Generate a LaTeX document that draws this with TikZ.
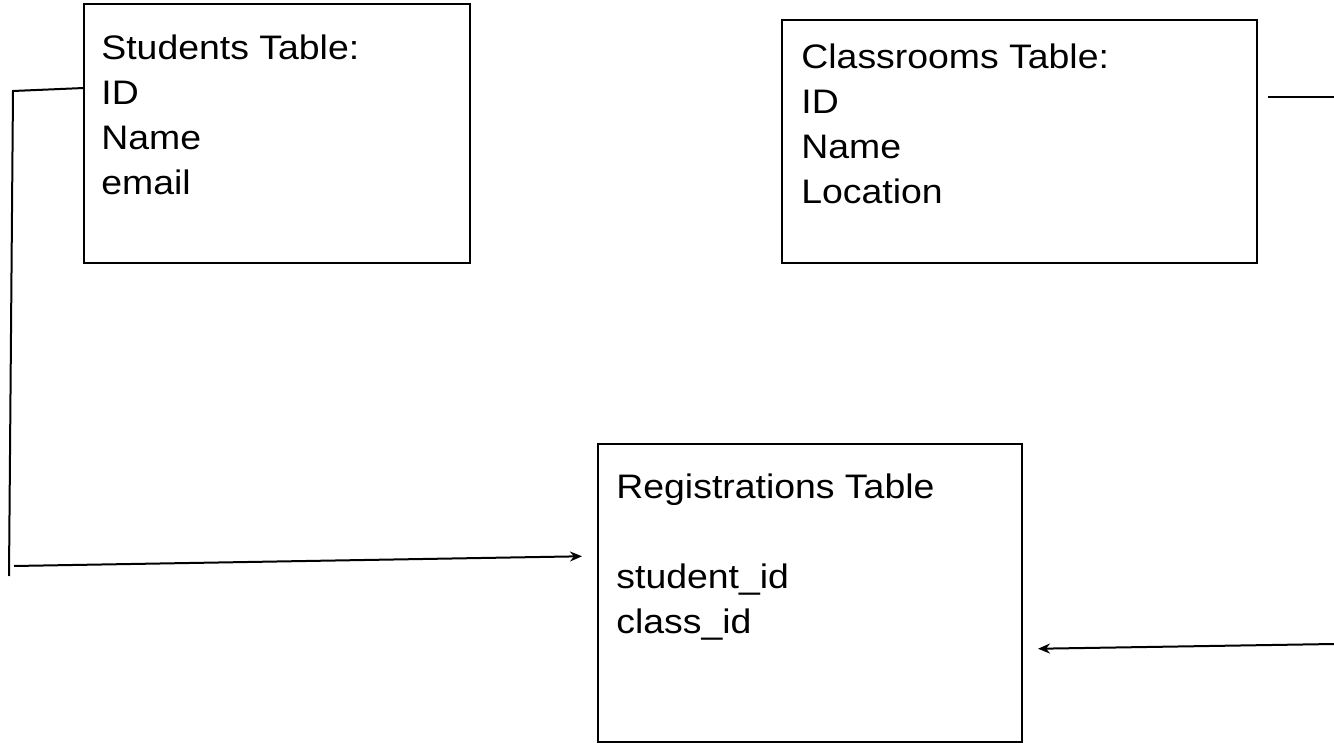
\documentclass[tikz,border=0pt]{standalone}
\usepackage{fontspec}
\usepackage{graphicx}
\setmainfont{Liberation Sans}
\usetikzlibrary{arrows.meta}
\newcommand\widetext[1]{\scalebox{1.1}[1]{#1}}
\tikzset{
  tblbox/.style={draw, line width=1pt, inner sep=0pt, outer sep=0pt},
  tbltext/.style={anchor=base west, inner sep=0pt, font=\fontsize{17}{22.5}\selectfont},
  link/.style={line width=1pt},
  flow/.style={line width=1pt, -{Stealth[length=6pt,width=5pt]}, shorten >=8pt}
}
\begin{document}
\begin{tikzpicture}[x=0.5pt, y=-0.5pt]
      \useasboundingbox (0,0) rectangle (1334,743);
      \node[tblbox, minimum width=193pt, minimum height=129.5pt] (students) at (277,133.5) {};
      \node[tblbox, minimum width=237.5pt, minimum height=121.5pt] (classrooms) at (1019.5,141.5) {};
      \node[tblbox, minimum width=212pt, minimum height=149pt] (registrations) at (810,593) {};
      \node[tbltext] (studentsText) at (101,60)
        {\widetext{\begin{tabular}[t]{@{}l@{}}Students Table:\\ID\\Name\\email\end{tabular}}};
      \node[tbltext] (classroomsText) at (801,69)
        {\widetext{\begin{tabular}[t]{@{}l@{}}Classrooms Table:\\ID\\Name\\Location\end{tabular}}};
      \node[tbltext] (registrationsText) at (616,498)
        {\widetext{\begin{tabular}[t]{@{}l@{}}Registrations Table\\ \\student\_id\\class\_id\end{tabular}}};
      \coordinate (idPin) at (84,88);
      \coordinate (topLeft) at (13,91);
      \coordinate (botLeft) at (9,576);
      \coordinate (footLeft) at (14,566);
      \coordinate (regIn) at (598,556);
      \coordinate (topRight) at (1334,97);
      \coordinate (botRight) at (1334,644);
      \coordinate (regOut) at (1022,649);
      \begin{scope}
        \draw[link] (students.west |- idPin) -- (topLeft) -- (botLeft);
        \draw[flow] (footLeft) -- (registrations.west |- regIn);
        \draw[link, shorten <=5.5pt] (classrooms.east |- topRight) -- (topRight);
        \draw[flow] (botRight) -- (registrations.east |- regOut);
      \end{scope}
    \end{tikzpicture}
\end{document}
